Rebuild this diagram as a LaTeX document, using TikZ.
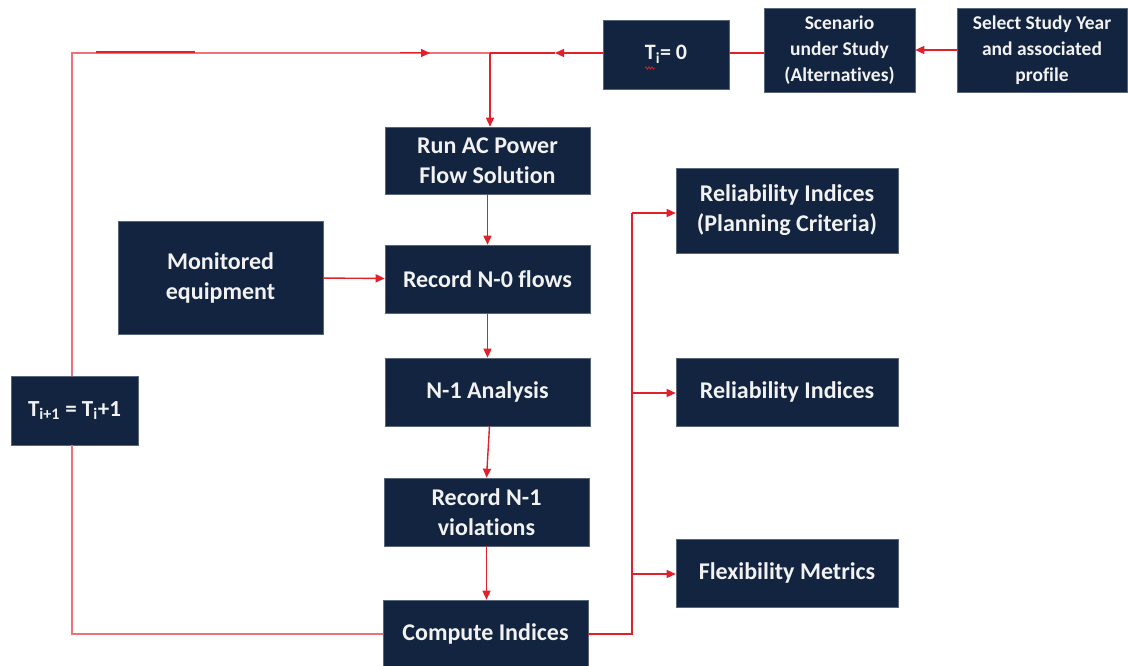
\documentclass[tikz,border=0pt]{standalone}
\usepackage{fontspec}
\setmainfont{Carlito}[Ligatures=NoCommon]
\usetikzlibrary{arrows.meta,decorations.pathmorphing}
\definecolor{navy}{HTML}{12243F}
\definecolor{redl}{HTML}{E0202A}
\definecolor{pinkl}{HTML}{EE7078}
\definecolor{txt}{HTML}{F2F2F2}
\begin{document}
\begin{tikzpicture}[x=1pt,y=-1pt,
  box/.style={fill=navy,draw=navy!70!white,line width=0.6pt,text=txt,font=\bfseries\fontsize{24}{30}\selectfont,align=center,inner sep=0pt},
  smallbox/.style={box,font=\bfseries\fontsize{19.5}{26}\selectfont},
  flow/.style={redl,line width=1.4pt,-{Triangle[length=9pt,width=8pt]}},
  plain/.style={redl,line width=1.4pt},
  loop/.style={pinkl,line width=1.6pt}]
\useasboundingbox (0,0) rectangle (1128,666);
\fill[white] (0,0) rectangle (1128,666);
\node[box,font=\bfseries\fontsize{22}{26}\selectfont,minimum width=126pt,minimum height=69pt] (t0) at (666,54.5) {T\textsubscript{i}= 0};
\node[smallbox,minimum width=151pt,minimum height=84pt] (scen) at (839.5,50) {Scenario\\under Study\\(Alternatives)};
\node[smallbox,minimum width=170pt,minimum height=84pt] (sel) at (1042,50) {Select Study Year\\and associated\\profile};
\node[box,minimum width=205pt,minimum height=67pt] (ac) at (487.5,160.5) {Run AC Power\\Flow Solution};
\node[box,minimum width=205pt,minimum height=113pt] (mon) at (220.5,277.5) {Monitored\\equipment};
\node[box,minimum width=205pt,minimum height=68pt] (n0) at (487.5,279) {Record N-0 flows};
\node[box,minimum width=205pt,minimum height=68pt] (n1) at (487.5,392) {N-1 Analysis};
\node[box,minimum width=205pt,minimum height=68pt] (v1) at (486.5,512) {Record N-1\\violations};
\node[box,minimum width=205pt,minimum height=68pt] (ci) at (485.5,634) {Compute Indices};
\node[box,minimum width=222pt,minimum height=85pt] (rp) at (787,210.5) {Reliability Indices\\(Planning Criteria)};
\node[box,minimum width=222pt,minimum height=68pt] (ri) at (787,392) {Reliability Indices};
\node[box,minimum width=222pt,minimum height=68pt] (fm) at (787,573) {Flexibility Metrics};
\node[box,font=\bfseries\fontsize{23}{26}\selectfont,minimum width=127pt,minimum height=69pt] (tn) at (74.5,410.5) {T\textsubscript{i+1} = T\textsubscript{i}+1};
% spell-check squiggle
\draw[redl,line width=0.7pt,decorate,decoration={snake,amplitude=1.2pt,segment length=3pt}] (645,68) -- (655,68);
% coordinates
\coordinate (y53) at (0,53);
\coordinate (jn) at (490,53);
\coordinate (tl) at (72,53);
\coordinate (bl) at (72,634);
\coordinate (rb) at (632,634);
\coordinate (a555) at (555,53);
\coordinate (b213) at (632,213);
\coordinate (b393) at (632,393);
\coordinate (b574) at (632,574);
% loop
\draw[loop] (ci.west) -- (bl) -- (tn.south -| bl);
\draw[loop] (tn.north -| tl) -- (tl) -- (jn);
\draw[redl,line width=2pt] (96,51.8) -- (195,51.8);
\draw[redl,line width=1pt,-{Triangle[length=9pt,width=8pt]}] (400,53) -- (430,53);
% top connectors
\draw[plain] (scen.west |- y53) -- (t0.east |- y53);
\draw[flow] (sel.west) -- (scen.east);
\draw[flow] (t0.west |- y53) -- (a555);
\draw[plain] (a555) -- (jn);
\draw[flow] (jn) -- (jn |- ac.north);
% centre chain
\draw[flow] (ac) -- (ac |- n0.north);
\draw[flow] (mon) -- (n0);
\draw[flow] (n0) -- (n0 |- n1.north);
\draw[flow] (n1.south) ++(2,0) -- (v1.north);
\draw[flow] (v1) -- (v1 |- ci.north);
% right bus
\draw[plain,line width=2pt] (ci.east) -- (rb) -- (b213);
\draw[flow] (b213) -- (rp.west |- b213);
\draw[flow] (b393) -- (ri.west |- b393);
\draw[flow] (b574) -- (fm.west |- b574);
\end{tikzpicture}
\end{document}
